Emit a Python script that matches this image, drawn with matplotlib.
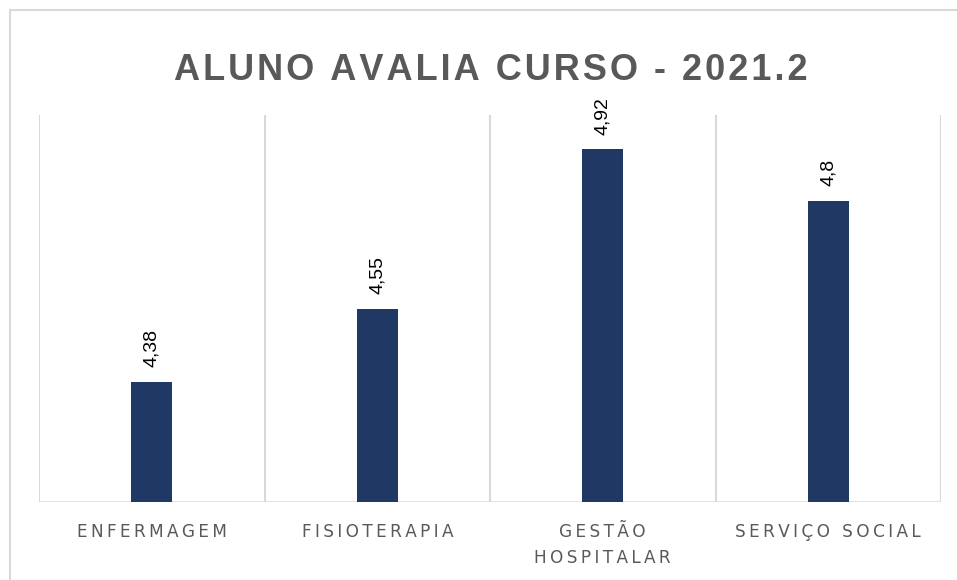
import matplotlib.pyplot as plt
from matplotlib.patches import Rectangle

# Data
categories = ["ENFERMAGEM", "FISIOTERAPIA", "GESTÃO\nHOSPITALAR", "SERVIÇO SOCIAL"]
scores = [4.38, 4.55, 4.92, 4.8]
title = "ALUNO AVALIA CURSO - 2021.2"

bar_color = "#203864"
grid_color = "#d9d9d9"
text_color = "#595959"


def spaced(s, gap="\u2009"):
    # fake the letter spacing of the original labels
    return "\n".join(gap.join(line) for line in s.split("\n"))


def fmt(v):
    return f"{v:g}".replace(".", ",")


fig = plt.figure(figsize=(9.57, 5.8), dpi=100)
ax = fig.add_axes([39 / 957, 1 - 502 / 580, (941 - 39) / 957, (502 - 115) / 580])

x = list(range(len(categories)))
ax.bar(x, scores, width=0.182, color=bar_color, zorder=3)

ax.set_xlim(-0.5, len(categories) - 0.5)
ax.set_ylim(4.1, 5.0)

# vertical gridlines at category boundaries
for b in range(len(categories) + 1):
    ax.axvline(b - 0.5, color=grid_color, lw=1.5, zorder=1)
ax.axhline(4.1, color=grid_color, lw=1.8, zorder=2)

for s in ax.spines.values():
    s.set_visible(False)
ax.set_yticks([])
ax.set_xticks(x)
ax.set_xticklabels([spaced(c) for c in categories], fontsize=12.2, color=text_color,
                   family="DejaVu Sans", linespacing=1.6, va="top")
ax.tick_params(axis="x", length=0, pad=15)

for xi, v in zip(x, scores):
    ax.annotate(fmt(v), (xi, v), xytext=(0, 10.5), textcoords="offset points",
                rotation=90, ha="center", va="bottom", fontsize=14,
                family="Liberation Sans", color="black")

fig.text(491 / 957, 1 - 70.5 / 580, spaced(title, "\u200a"), ha="center", va="center",
         fontsize=26, fontweight="bold", color=text_color,
         family=["Liberation Sans", "DejaVu Sans"])

# outer chart frame
fig.patches.append(Rectangle((10 / 957, -0.1), 1.1, 1 - 10 / 580 + 0.1,
                             transform=fig.transFigure, fill=False,
                             edgecolor=grid_color, lw=1.5))

fig.savefig("out.png", dpi=100)
